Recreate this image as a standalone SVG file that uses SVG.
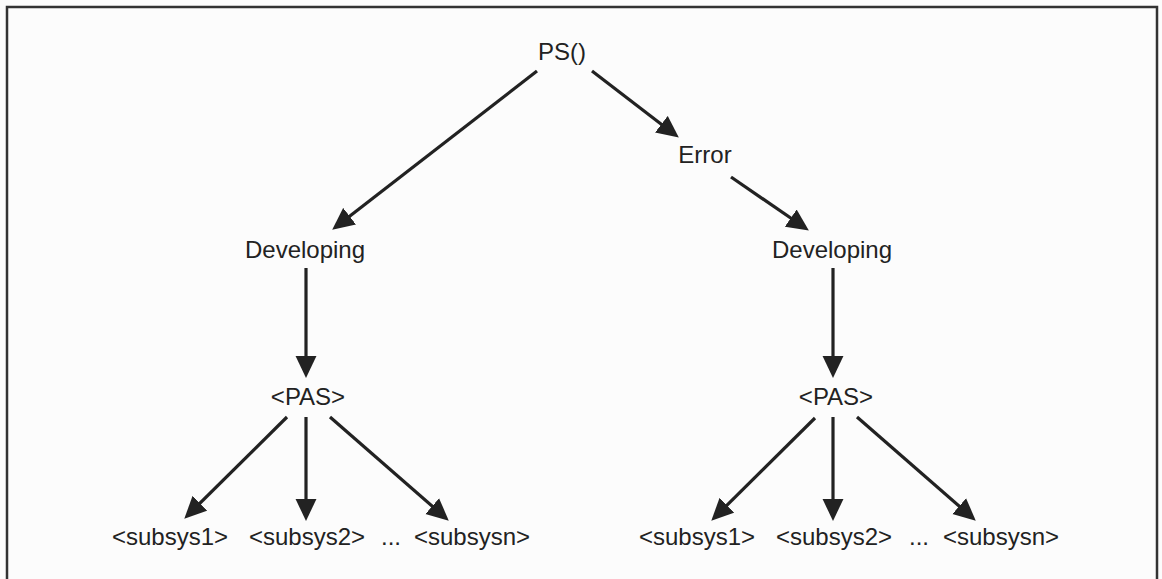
<svg xmlns="http://www.w3.org/2000/svg" width="1162" height="579" viewBox="0 0 1162 579">
  <style>
    .lbl { font-family: "Liberation Sans", Arial, sans-serif; font-size: 24px; fill: #222; text-anchor: middle; }
    .edge { stroke: #222; stroke-width: 3.2; fill: none; marker-end: url(#head); }
  </style>
  <defs>
    <marker id="head" markerUnits="userSpaceOnUse" markerWidth="22" markerHeight="22" viewBox="0 0 20 20" refX="10" refY="10" orient="auto">
      <path d="M0,0.5 L20,10 L0,19.5 z" fill="#222"/>
    </marker>
  </defs>

  <rect x="0" y="0" width="1162" height="579" fill="#fcfcfc"/>
  <rect x="7" y="7" width="1150" height="580" fill="none" stroke="#333" stroke-width="2.5"/>

  <g id="connectors">
    <line class="edge" x1="537" y1="71" x2="340.9" y2="222.9"/>
    <line class="edge" x1="592" y1="71" x2="670.1" y2="130.9"/>
    <line class="edge" x1="731" y1="177" x2="799.8" y2="224.3"/>
    <line class="edge" x1="306" y1="268" x2="306" y2="367"/>
    <line class="edge" x1="833" y1="268" x2="833" y2="367"/>
    <line class="edge" x1="287" y1="417" x2="192.1" y2="511"/>
    <line class="edge" x1="306" y1="417" x2="306" y2="510"/>
    <line class="edge" x1="330" y1="417" x2="440.5" y2="513.4"/>
    <line class="edge" x1="815" y1="418" x2="719.1" y2="513"/>
    <line class="edge" x1="833" y1="417" x2="833" y2="510"/>
    <line class="edge" x1="857" y1="417" x2="967.5" y2="513.4"/>
  </g>

  <g id="ps"><text class="lbl" x="562" y="60">PS()</text></g>
  <g id="error"><text class="lbl" x="705" y="163">Error</text></g>

  <g id="developing-left"><text class="lbl" x="305" y="258">Developing</text></g>
  <g id="pas-left"><text class="lbl" x="308" y="405">&lt;PAS&gt;</text></g>
  <g id="subsys1-left"><text class="lbl" x="170" y="545">&lt;subsys1&gt;</text></g>
  <g id="subsys2-left"><text class="lbl" x="307" y="545">&lt;subsys2&gt;</text></g>
  <g id="ellipsis-left"><text class="lbl" x="391" y="545">...</text></g>
  <g id="subsysn-left"><text class="lbl" x="472" y="545">&lt;subsysn&gt;</text></g>

  <g id="developing-right"><text class="lbl" x="832" y="258">Developing</text></g>
  <g id="pas-right"><text class="lbl" x="836" y="405">&lt;PAS&gt;</text></g>
  <g id="subsys1-right"><text class="lbl" x="697" y="545">&lt;subsys1&gt;</text></g>
  <g id="subsys2-right"><text class="lbl" x="834" y="545">&lt;subsys2&gt;</text></g>
  <g id="ellipsis-right"><text class="lbl" x="919" y="545">...</text></g>
  <g id="subsysn-right"><text class="lbl" x="1001" y="545">&lt;subsysn&gt;</text></g>
</svg>
